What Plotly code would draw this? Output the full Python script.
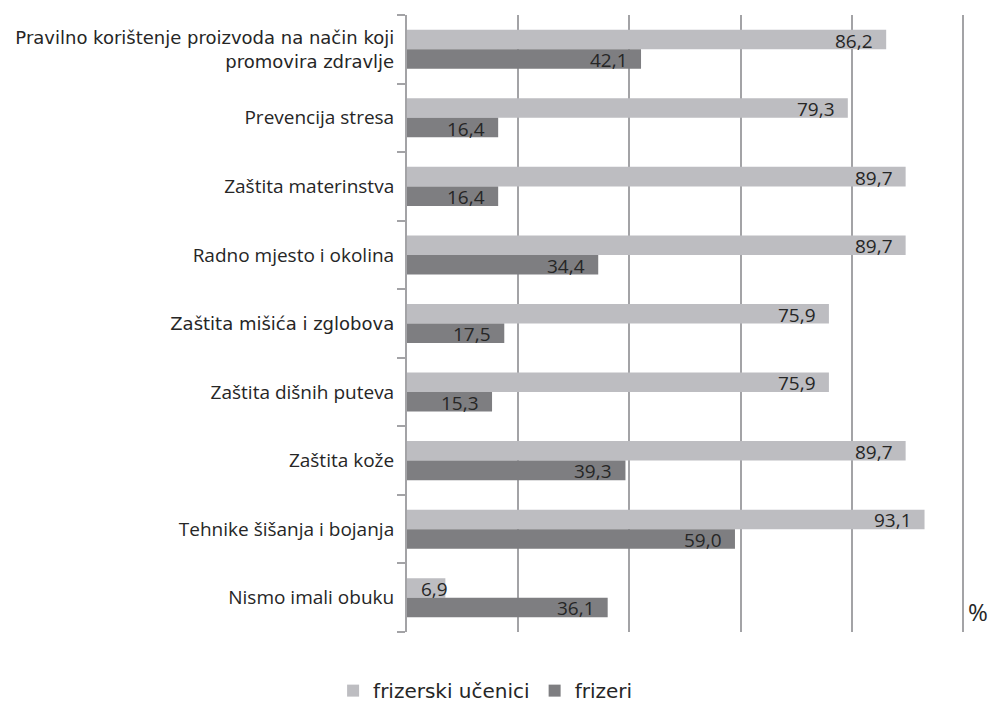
import plotly.graph_objects as go

# Survey results: share of respondents (%) per training topic
categories = [
    "Pravilno korištenje proizvoda na način koji<br>promovira zdravlje",
    "Prevencija stresa",
    "Zaštita materinstva",
    "Radno mjesto i okolina",
    "Zaštita mišića i zglobova",
    "Zaštita dišnih puteva",
    "Zaštita kože",
    "Tehnike šišanja i bojanja",
    "Nismo imali obuku",
]
ucenici = [86.2, 79.3, 89.7, 89.7, 75.9, 75.9, 89.7, 93.1, 6.9]
frizeri = [42.1, 16.4, 16.4, 34.4, 17.5, 15.3, 39.3, 59.0, 36.1]
series_names = ["frizerski učenici", "frizeri"]
x_ticks = [0, 20, 40, 60, 80, 100]
unit_label = "%"

LIGHT = "#bdbdc1"
DARK = "#7e7e81"
GRID = "#a3a3a6"
TEXT = "#262626"
SANS = "Open Sans"
WIDE = "DejaVu Sans"

W, H = 990, 704
M = dict(l=407, r=26, t=15, b=72)
BARGAP = 0.43

# labels typeset in the wider face
wide_idx = {0, 4}


def styled(label, i):
    if i not in wide_idx:
        return label
    return "<br>".join(
        f"<span style='font-family:{WIDE};font-size:18px'>{part}</span>"
        for part in label.split("<br>")
    )


ticktext = [styled(c, i) for i, c in enumerate(categories)]

fig = go.Figure()
for name, vals, color in [(series_names[0], ucenici, LIGHT), (series_names[1], frizeri, DARK)]:
    fig.add_trace(go.Bar(
        y=categories, x=vals, name=name, orientation="h",
        marker=dict(color=color, line=dict(width=0)),
        hoverinfo="x+name",
    ))

# value labels at the inner end of each bar
cat_px = (H - M["t"] - M["b"]) / len(categories)
bar_px = cat_px * (1 - BARGAP) / 2
for k, vals in enumerate([ucenici, frizeri]):
    yshift = bar_px / 2 if k == 0 else -bar_px / 2
    for c, v in zip(categories, vals):
        fits = v >= 10
        fig.add_annotation(
            x=v, y=c, xref="x", yref="y",
            text=f"{v:.1f}".replace(".", ","),
            showarrow=False, xanchor="right",
            xshift=-11 if fits else 5, yshift=yshift - 1,
            font=dict(family=SANS, size=19, color=TEXT),
        )

fig.add_annotation(
    x=1, y=0, xref="paper", yref="paper", xanchor="left", yanchor="bottom",
    xshift=2, yshift=2, text=unit_label, showarrow=False,
    font=dict(family=SANS, size=24, color=TEXT),
)

fig.update_layout(
    width=W, height=H, margin=M,
    paper_bgcolor="white", plot_bgcolor="white",
    barmode="group", bargap=BARGAP, bargroupgap=0,
    separators=", ",
    showlegend=True,
    legend=dict(
        orientation="h", xref="container", yref="container",
        x=0.49, xanchor="center", y=0.019, yanchor="middle",
        font=dict(family=WIDE, size=20, color=TEXT),
        itemwidth=30, traceorder="normal",
    ),
    xaxis=dict(
        range=[0, 100.2], tickvals=x_ticks, showticklabels=False,
        showgrid=True, gridcolor=GRID, gridwidth=2,
        zeroline=False, showline=False, ticks="",
    ),
    yaxis=dict(
        autorange="reversed", tickmode="array", tickvals=categories, ticktext=ticktext,
        showline=True, linecolor=GRID, linewidth=2,
        ticks="outside", ticklen=8, tickwidth=2, tickcolor=GRID,
        tickson="boundaries", showgrid=False, ticklabelstandoff=7,
        tickfont=dict(family=SANS, size=19, color=TEXT),
    ),
)

fig.write_html("out.html")
